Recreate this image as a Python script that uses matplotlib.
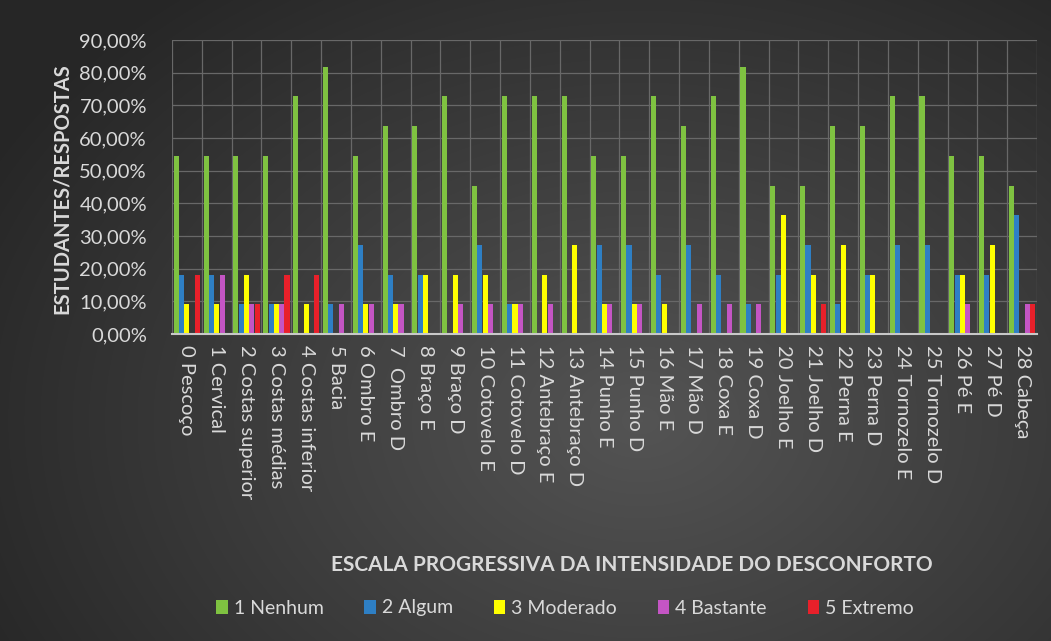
import numpy as np
import matplotlib
matplotlib.use("Agg")
import matplotlib.pyplot as plt
from matplotlib.patches import Patch

categories = ["0 Pescoço", "1 Cervical", "2 Costas superior", "3 Costas médias",
              "4 Costas inferior", "5 Bacia", "6 Ombro E", "7  Ombro D", "8 Braço E",
              "9 Braço D", "10 Cotovelo E", "11 Cotovelo D", "12 Antebraço E",
              "13 Antebraço D", "14 Punho E", "15 Punho D", "16 Mão E", "17 Mão D",
              "18 Coxa E", "19 Coxa D", "20 Joelho E", "21 Joelho D", "22 Perna E",
              "23 Perna D", "24 Tornozelo E", "25 Tornozelo D", "26 Pé E", "27 Pé D",
              "28 Cabeça"]

series_names = ["1 Nenhum", "2 Algum", "3 Moderado", "4 Bastante", "5 Extremo"]

nenhum = [54.55, 54.55, 54.55, 54.55, 72.73, 81.82, 54.55, 63.64, 63.64, 72.73,
          45.45, 72.73, 72.73, 72.73, 54.55, 54.55, 72.73, 63.64, 72.73, 81.82,
          45.45, 45.45, 63.64, 63.64, 72.73, 72.73, 54.55, 54.55, 45.45]
algum = [18.18, 18.18, 9.09, 9.09, 0, 9.09, 27.27, 18.18, 18.18, 0,
         27.27, 9.09, 0, 0, 27.27, 27.27, 18.18, 27.27, 18.18, 9.09,
         18.18, 27.27, 9.09, 18.18, 27.27, 27.27, 18.18, 18.18, 36.36]
moderado = [9.09, 9.09, 18.18, 9.09, 9.09, 0, 9.09, 9.09, 18.18, 18.18,
            18.18, 9.09, 18.18, 27.27, 9.09, 9.09, 9.09, 0, 0, 0,
            36.36, 18.18, 27.27, 18.18, 0, 0, 18.18, 27.27, 0]
bastante = [0, 18.18, 9.09, 9.09, 0, 9.09, 9.09, 9.09, 0, 9.09,
            9.09, 9.09, 9.09, 0, 9.09, 9.09, 0, 9.09, 9.09, 9.09,
            0, 0, 0, 0, 0, 0, 9.09, 0, 9.09]
extremo = [18.18, 0, 9.09, 18.18, 18.18, 0, 0, 0, 0, 0,
           0, 0, 0, 0, 0, 0, 0, 0, 0, 0,
           0, 9.09, 0, 0, 0, 0, 0, 0, 9.09]

colors = ["#7fc241", "#2e7fc4", "#ffff00", "#c455c4", "#e8202a"]
yticks = [0, 10, 20, 30, 40, 50, 60, 70, 80, 90]
ytick_labels = ["0,00%", "10,00%", "20,00%", "30,00%", "40,00%", "50,00%",
                "60,00%", "70,00%", "80,00%", "90,00%"]

plt.rcParams['font.family'] = ['Lato', 'DejaVu Sans']
txt = "#d9d9d9"

fig = plt.figure(figsize=(10.51, 6.41), dpi=100)

# background radial gradient
bg = fig.add_axes([0, 0, 1, 1])
yy, xx = np.mgrid[0:641, 0:1051]
d = np.sqrt(((xx - 640) / 700.0) ** 2 + ((yy - 420) / 520.0) ** 2)
val = np.clip(0.33 - 0.17 * d, 0.15, 0.33)
img = np.dstack([val, val, val])
bg.imshow(img, extent=[0, 1, 0, 1], aspect='auto', origin='upper')
bg.axis('off')

ax = fig.add_axes([172 / 1051, 1 - 334 / 641, (1037 - 172) / 1051, (334 - 40) / 641])
ax.set_facecolor('none')

data = [nenhum, algum, moderado, bastante, extremo]
x = np.arange(len(categories))
w = 0.17
for i, (vals, c) in enumerate(zip(data, colors)):
    ax.bar(x + (i - 2) * 0.178, vals, width=w, color=c, zorder=3)

ax.set_xlim(-0.5, len(categories) - 0.5)
ax.set_ylim(0, 90)
ax.set_yticks(yticks)
ax.set_yticklabels(ytick_labels, color=txt, fontsize=14.5)
ax.set_xticks(x)
ax.set_xticklabels(categories, rotation=-90, color=txt, fontsize=14.5,
                   va='top', ha='center')
ax.set_xticks(np.arange(len(categories) + 1) - 0.5, minor=True)
ax.tick_params(axis='both', which='both', length=0)
ax.tick_params(axis='y', pad=18)
ax.tick_params(axis='x', pad=8)
ax.grid(axis='y', which='major', color='#686868', linewidth=0.9, zorder=0)
ax.grid(axis='x', which='minor', color='#686868', linewidth=0.9, zorder=0)
ax.grid(axis='x', which='major', visible=False)
for s in ['top', 'right', 'left']:
    ax.spines[s].set_visible(False)
ax.spines['bottom'].set_color('#c8c8c8')
ax.spines['bottom'].set_linewidth(1.5)
ax.spines['bottom'].set_zorder(4)

fig.text(62 / 1051, 1 - 189 / 641, "ESTUDANTES/RESPOSTAS", rotation=90,
         ha='center', va='center', color=txt, fontsize=14.5, fontweight='bold')
fig.text(632 / 1051, 1 - 565 / 641, "ESCALA PROGRESSIVA DA INTENSIDADE DO DESCONFORTO",
         ha='center', va='center', color=txt, fontsize=15, fontweight='bold')

handles = [Patch(facecolor=c, edgecolor='none') for c in colors]
leg = fig.legend(handles, series_names, loc='center', bbox_to_anchor=(565 / 1051, 1 - 608 / 641),
                 ncol=5, frameon=False, fontsize=14, labelcolor=txt,
                 handlelength=0.6, handleheight=0.7, handletextpad=0.3, columnspacing=2.1)

fig.savefig("out.png", dpi=100)
